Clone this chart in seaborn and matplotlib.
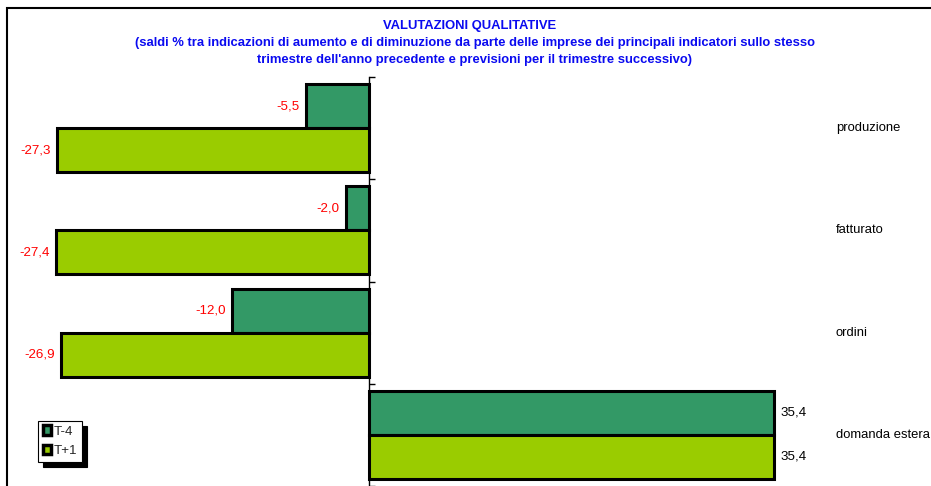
import matplotlib
matplotlib.use("Agg")
import matplotlib.pyplot as plt
import seaborn as sns
import pandas as pd
from matplotlib.patches import Rectangle, Patch

categories = ["produzione", "fatturato", "ordini", "domanda estera"]
series_names = ["T-4", "T+1"]
t_minus4 = [-5.5, -2.0, -12.0, 35.4]
t_plus1 = [-27.3, -27.4, -26.9, 35.4]
title_lines = [
    "VALUTAZIONI QUALITATIVE",
    "(saldi % tra indicazioni di aumento e di diminuzione da parte delle imprese dei principali indicatori sullo stesso",
    "trimestre dell'anno precedente e previsioni per il trimestre successivo)",
]
colors = {"T-4": "#339966", "T+1": "#9ACC00"}

df = pd.DataFrame({
    "cat": categories * 2,
    "serie": [series_names[0]] * 4 + [series_names[1]] * 4,
    "val": t_minus4 + t_plus1,
})

sns.set_style("white")
plt.rcParams["font.family"] = ["Liberation Sans", "DejaVu Sans"]

W, H = 931, 486
fig = plt.figure(figsize=(W / 100, H / 100), dpi=100)
ax = fig.add_axes([0, 0, 1, (486 - 77) / H])

sns.barplot(data=df, y="cat", x="val", hue="serie", order=categories,
            hue_order=series_names, palette=colors, orient="h",
            width=0.86, edgecolor="black", linewidth=2.2, saturation=1,
            ax=ax, legend=False)

scale = 11.44
ax.set_xlim(-369 / scale, (931 - 369) / scale)
ax.set_ylim(-0.5 + (486 - 77) / 102.7, -0.5)

for s in ["top", "right", "bottom"]:
    ax.spines[s].set_visible(False)
ax.spines["left"].set_position(("data", 0))
ax.spines["left"].set_color("black")
ax.spines["left"].set_linewidth(1.0)
ax.set_yticks([-0.5, 0.5, 1.5, 2.5, 3.5])
ax.set_yticklabels([])
ax.tick_params(axis="y", direction="in", length=4, width=1, color="black", left=True)
ax.set_xticks([])
ax.set_xlabel("")
ax.set_ylabel("")

def fmt(v):
    return f"{v:.1f}".replace(".", ",")

for cont, vals in zip(ax.containers, [t_minus4, t_plus1]):
    texts = ax.bar_label(cont, labels=[fmt(v) for v in vals], padding=4.5, fontsize=9.6)
    for t, v in zip(texts, vals):
        t.set_color("red" if v < 0 else "black")

xlab = (836 - 369) / scale
for i, c in enumerate(categories):
    ax.text(xlab, i, c, va="center", ha="left", fontsize=9.4, color="black")

# title
ys = [26, 43, 60]
xs = [470, 475, 474]
for txt, y, x in zip(title_lines, ys, xs):
    fig.text(x / W, 1 - y / H, txt, ha="center", va="center", fontsize=9.4,
             fontweight="bold", color="#0A0AF0")

# legend
handles = [Patch(facecolor=colors[s], edgecolor="black", linewidth=2.5) for s in series_names]
leg = fig.legend(handles, series_names, loc="lower left",
                 bbox_to_anchor=(38 / W, (486 - 462) / H), fontsize=9.6,
                 handlelength=0.6, handleheight=0.7, handletextpad=0.25,
                 borderpad=0.35, labelspacing=0.55, frameon=True,
                 shadow={"ox": 3.5, "oy": -3.5, "facecolor": "black",
                         "edgecolor": "black", "alpha": 1.0},
                 fancybox=False, borderaxespad=0)
leg.get_frame().set_edgecolor("black")
leg.get_frame().set_linewidth(0.8)

# figure border
fig.patches.append(Rectangle((7 / W, -0.1), 1.1, 1 - 8 / H + 0.1,
                             transform=fig.transFigure, fill=False,
                             edgecolor="black", linewidth=1.5))

fig.savefig("out.png", dpi=100)
